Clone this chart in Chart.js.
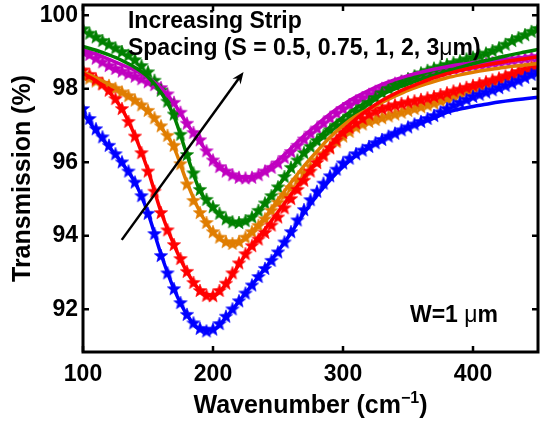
<!DOCTYPE html>
<html><head><meta charset="utf-8">
<script src="https://cdn.jsdelivr.net/npm/chart.js@4.4.1/dist/chart.umd.min.js"></script>
<style>html,body{margin:0;padding:0;background:#fff;}canvas{display:block;}</style>
</head><body>
<canvas id="c" width="540" height="429"></canvas>
<script>
// ---- data ----
const starWavenumbers = [100,105,110,115,120,125,130,135,140,145,150,155,160,165,170,175,180,185,190,195,200,205,210,215,220,225,230,235,240,245,250,255,260,265,270,275,280,285,290,295,300,305,310,315,320,325,330,335,340,345,350,355,360,365,370,375,380,385,390,395,400,405,410,415,420,425,430,435,440,445,450];
const fitWavenumbers = [100,110,120,130,140,150,160,170,180,190,200,210,220,230,240,250,260,270,280,290,300,310,320,330,340,350,360,370,380,390,400,410,420,430,440,450];

const blueStars = [97.45,97.18,96.9,96.68,96.45,96.22,96.0,95.75,95.45,95.08,94.6,94.05,93.45,92.98,92.55,92.17,91.85,91.62,91.47,91.4,91.45,91.6,91.8,92.0,92.22,92.43,92.65,92.88,93.1,93.32,93.55,93.82,94.1,94.42,94.7,94.97,95.2,95.42,95.62,95.8,95.97,96.1,96.22,96.32,96.42,96.52,96.61,96.7,96.78,96.87,96.95,97.03,97.1,97.18,97.26,97.36,97.45,97.54,97.62,97.7,97.78,97.84,97.9,97.96,98.02,98.08,98.15,98.22,98.3,98.38,98.45];
const redStars = [98.5,98.38,98.25,98.12,97.95,97.72,97.45,97.1,96.7,96.25,95.75,95.2,94.62,94.15,93.75,93.37,93.02,92.72,92.5,92.37,92.36,92.5,92.7,92.98,93.25,93.5,93.72,93.9,94.08,94.28,94.5,94.75,95.0,95.25,95.5,95.75,95.98,96.18,96.38,96.6,96.8,96.93,97.06,97.18,97.3,97.38,97.45,97.5,97.55,97.59,97.63,97.66,97.7,97.74,97.78,97.83,97.88,97.93,97.98,98.03,98.08,98.13,98.18,98.23,98.28,98.34,98.4,98.46,98.52,98.58,98.65];
const orangeStars = [98.35,98.28,98.2,98.14,98.08,98.0,97.9,97.8,97.68,97.55,97.4,97.2,96.98,96.72,96.45,95.95,95.4,94.95,94.62,94.35,94.1,93.95,93.83,93.78,93.83,93.95,94.1,94.27,94.45,94.68,94.9,95.1,95.3,95.5,95.7,95.88,96.05,96.22,96.4,96.55,96.7,96.83,96.95,97.03,97.1,97.15,97.2,97.25,97.3,97.35,97.4,97.45,97.5,97.55,97.6,97.66,97.72,97.78,97.85,97.92,97.98,98.04,98.1,98.16,98.22,98.28,98.35,98.4,98.45,98.5,98.55];
const greenStars = [99.62,99.5,99.4,99.3,99.2,99.1,99.0,98.9,98.78,98.62,98.45,98.22,97.95,97.65,97.3,96.75,96.2,95.7,95.25,94.98,94.78,94.6,94.45,94.37,94.35,94.4,94.5,94.68,94.88,95.08,95.32,95.6,95.85,96.05,96.25,96.42,96.58,96.72,96.87,97.0,97.12,97.25,97.38,97.5,97.62,97.75,97.88,98.0,98.1,98.18,98.26,98.34,98.42,98.49,98.55,98.6,98.65,98.7,98.75,98.8,98.85,98.9,98.96,99.03,99.1,99.2,99.3,99.38,99.46,99.55,99.63];
const magentaStars = [99.0,98.92,98.82,98.72,98.62,98.54,98.47,98.4,98.33,98.26,98.18,98.1,98.02,97.85,97.62,97.35,97.05,96.8,96.6,96.3,96.05,95.87,95.75,95.65,95.58,95.56,95.58,95.65,95.75,95.85,95.97,96.12,96.28,96.45,96.62,96.78,96.92,97.06,97.2,97.33,97.45,97.56,97.66,97.75,97.84,97.92,98.0,98.07,98.14,98.2,98.25,98.3,98.35,98.39,98.43,98.47,98.5,98.53,98.56,98.59,98.62,98.65,98.67,98.7,98.72,98.75,98.77,98.8,98.82,98.85,98.87];

const blueFit = [97.35,96.85,96.42,95.98,95.45,94.62,93.5,92.55,91.85,91.47,91.45,91.78,92.22,92.67,93.12,93.58,94.08,94.62,95.1,95.52,95.88,96.18,96.42,96.62,96.8,96.95,97.08,97.2,97.36,97.45,97.52,97.58,97.64,97.69,97.73,97.77];
const redFit = [98.42,98.22,97.92,97.45,96.72,95.78,94.65,93.75,93.02,92.52,92.38,92.68,93.22,93.75,94.18,94.65,95.12,95.58,96.03,96.45,96.85,97.18,97.45,97.68,97.87,98.03,98.17,98.3,98.41,98.5,98.58,98.65,98.71,98.77,98.82,98.87];
const orangeFit = [98.45,98.3,98.12,97.92,97.68,97.38,96.95,96.4,95.45,94.65,94.1,93.83,93.83,94.12,94.5,94.98,95.45,95.9,96.3,96.68,97.0,97.26,97.45,97.63,97.8,97.96,98.09,98.2,98.3,98.38,98.45,98.51,98.56,98.61,98.65,98.69];
const greenFit = [99.15,99.05,98.92,98.77,98.58,98.32,97.9,97.25,96.2,95.22,94.75,94.45,94.35,94.5,94.88,95.35,95.82,96.25,96.62,96.95,97.23,97.47,97.67,97.85,98.0,98.13,98.26,98.37,98.48,98.58,98.68,98.77,98.85,98.93,99.0,99.07];
const magentaFit = [99.05,98.95,98.8,98.65,98.5,98.3,98.02,97.6,97.05,96.55,96.08,95.75,95.6,95.6,95.78,96.05,96.38,96.72,97.03,97.32,97.57,97.78,97.96,98.12,98.25,98.36,98.45,98.53,98.6,98.66,98.71,98.75,98.79,98.82,98.85,98.88];

const xTicks = [100,200,300,400];
const yTicks = [92,94,96,98,100];

// annotation anchors (data units)
const arrowTail = [129.8, 93.89];
const arrowHead = [223.5, 98.46];
const noteLine1 = {x:134.6, y:99.66, text:'Increasing Strip'};
const noteLine2 = {x:134.6, y:98.92, pre:'Spacing (S = 0.5, 0.75, 1, 2, 3', mu:'\u03bc', post:'m)'};
const noteW = {x:351.5, y:91.65, pre:'W=1 ', mu:'\u03bc', post:'m'};

// ---- styling ----
const COLORS = {blue:'#0000ff', red:'#ff0000', orange:'#e07d00', green:'#008000', magenta:'#c000c0'};
const FONT = "'Liberation Sans', Arial, Helvetica, sans-serif";

function starImage(color){
  const R = 7, r = R*0.42, s = Math.ceil(2*R+2);
  const cv = document.createElement('canvas'); cv.width = s; cv.height = s;
  const g = cv.getContext('2d');
  g.beginPath();
  for(let i=0;i<10;i++){
    const ang = -Math.PI/2 + i*Math.PI/5;
    const rad = (i%2===0)?R:r;
    const px = s/2 + rad*Math.cos(ang), py = s/2 + rad*Math.sin(ang);
    if(i===0) g.moveTo(px,py); else g.lineTo(px,py);
  }
  g.closePath();
  g.fillStyle = color; g.fill();
  g.strokeStyle = color; g.lineWidth = 0.6; g.stroke();
  return cv;
}

function pts(xs, ys){ return xs.map((x,i)=>({x:x, y:ys[i]})); }

const series = [
  {name:'blue', stars:blueStars, fit:blueFit},
  {name:'red', stars:redStars, fit:redFit},
  {name:'orange', stars:orangeStars, fit:orangeFit},
  {name:'green', stars:greenStars, fit:greenFit},
  {name:'magenta', stars:magentaStars, fit:magentaFit},
];

const datasets = [];
series.forEach((s,i)=>{
  datasets.push({
    data: pts(starWavenumbers, s.stars), showLine:false,
    pointStyle: starImage(COLORS[s.name]), pointRadius: 7, order: 10+i, clip: 0
  });
  datasets.push({
    data: pts(fitWavenumbers, s.fit), showLine:true, pointRadius:0,
    borderColor: COLORS[s.name], borderWidth: 3.5, cubicInterpolationMode:'monotone',
    fill:false, order: i, clip: 0
  });
});

const decor = {
  id:'decor',
  afterDatasetsDraw(chart){
    const {ctx, chartArea:a, scales:{x, y}} = chart;
    ctx.save();
    // arrow
    const x0 = x.getPixelForValue(arrowTail[0]), y0 = y.getPixelForValue(arrowTail[1]);
    const x1 = x.getPixelForValue(arrowHead[0]), y1 = y.getPixelForValue(arrowHead[1]);
    const ang = Math.atan2(y1-y0, x1-x0);
    ctx.strokeStyle = '#000'; ctx.fillStyle = '#000'; ctx.lineWidth = 2.5;
    ctx.beginPath(); ctx.moveTo(x0,y0); ctx.lineTo(x1-6*Math.cos(ang), y1-6*Math.sin(ang)); ctx.stroke();
    ctx.beginPath();
    ctx.moveTo(x1,y1);
    ctx.lineTo(x1-12*Math.cos(ang)+5*Math.sin(ang), y1-12*Math.sin(ang)-5*Math.cos(ang));
    ctx.lineTo(x1-8*Math.cos(ang), y1-8*Math.sin(ang));
    ctx.lineTo(x1-12*Math.cos(ang)-5*Math.sin(ang), y1-12*Math.sin(ang)+5*Math.cos(ang));
    ctx.closePath(); ctx.fill();

    // texts
    ctx.textBaseline = 'alphabetic'; ctx.textAlign = 'left';
    const bold = 'bold 23px ' + FONT, norm = '23px ' + FONT;
    function seg(note){
      let px = x.getPixelForValue(note.x), py = y.getPixelForValue(note.y);
      ctx.font = bold; ctx.fillText(note.pre, px, py); px += ctx.measureText(note.pre).width;
      ctx.font = norm; ctx.fillText(note.mu, px, py); px += ctx.measureText(note.mu).width;
      ctx.font = bold; ctx.fillText(note.post, px, py);
    }
    ctx.font = bold;
    ctx.fillText(noteLine1.text, x.getPixelForValue(noteLine1.x), y.getPixelForValue(noteLine1.y));
    seg(noteLine2);
    ctx.font = bold;
    seg(noteW);

    // frame
    ctx.lineWidth = 3; ctx.strokeStyle = '#000';
    ctx.strokeRect(a.left, a.top, a.right-a.left, a.bottom-a.top);
    ctx.lineWidth = 2.5;
    const tl = 6;
    xTicks.forEach(v=>{
      const px = x.getPixelForValue(v);
      ctx.beginPath(); ctx.moveTo(px, a.bottom); ctx.lineTo(px, a.bottom-tl);
      ctx.moveTo(px, a.top); ctx.lineTo(px, a.top+tl); ctx.stroke();
    });
    yTicks.forEach(v=>{
      const py = y.getPixelForValue(v);
      ctx.beginPath(); ctx.moveTo(a.left, py); ctx.lineTo(a.left+tl, py);
      ctx.moveTo(a.right, py); ctx.lineTo(a.right-tl, py); ctx.stroke();
    });

    // x-axis title with superscript
    const main = 'Wavenumber (cm', sup = '\u22121', end = ')';
    const fMain = 'bold 25px ' + FONT, fSup = 'bold 16px ' + FONT;
    ctx.font = fMain; const w1 = ctx.measureText(main).width, w3 = ctx.measureText(end).width;
    ctx.font = fSup; const w2 = ctx.measureText(sup).width;
    let tx = (a.left + a.right)/2 - (w1+w2+w3)/2;
    const base = 413;
    ctx.font = fMain; ctx.fillText(main, tx, base); tx += w1;
    ctx.font = fSup; ctx.fillText(sup, tx, base-10); tx += w2;
    ctx.font = fMain; ctx.fillText(end, tx, base);
    ctx.restore();
  }
};

new Chart(document.getElementById('c'), {
  type: 'scatter',
  data: {datasets},
  options: {
    responsive: false, animation: false, devicePixelRatio: 1,
    events: [],
    layout: {autoPadding: false, padding: {top: 5, right: 2, left: 0, bottom: 0}},
    plugins: {legend:{display:false}, tooltip:{enabled:false}},
    scales: {
      x: {
        type:'linear', min:100, max:450,
        grid:{display:false, drawTicks:false}, border:{display:false},
        afterBuildTicks: s => { s.ticks = xTicks.map(v=>({value:v})); },
        afterFit: s => { s.height = 77; s.paddingLeft = 0; s.paddingRight = 0; },
        ticks:{font:{family:FONT, size:23, weight:'bold'}, color:'#000', padding:9, autoSkip:false, maxRotation:0},
      },
      y: {
        type:'linear', min:90.84, max:100.28,
        grid:{display:false, drawTicks:false}, border:{display:false},
        afterBuildTicks: s => { s.ticks = yTicks.map(v=>({value:v})); },
        afterFit: s => { s.width = 83; s.paddingTop = 0; s.paddingBottom = 0; },
        ticks:{font:{family:FONT, size:23, weight:'bold'}, color:'#000', padding:5, autoSkip:false},
        title:{display:true, text:'Transmission (%)', color:'#000', font:{family:FONT, size:25, weight:'bold'}, padding:{top:8, bottom:0}}
      }
    }
  },
  plugins:[decor]
});
</script>
</body></html>
